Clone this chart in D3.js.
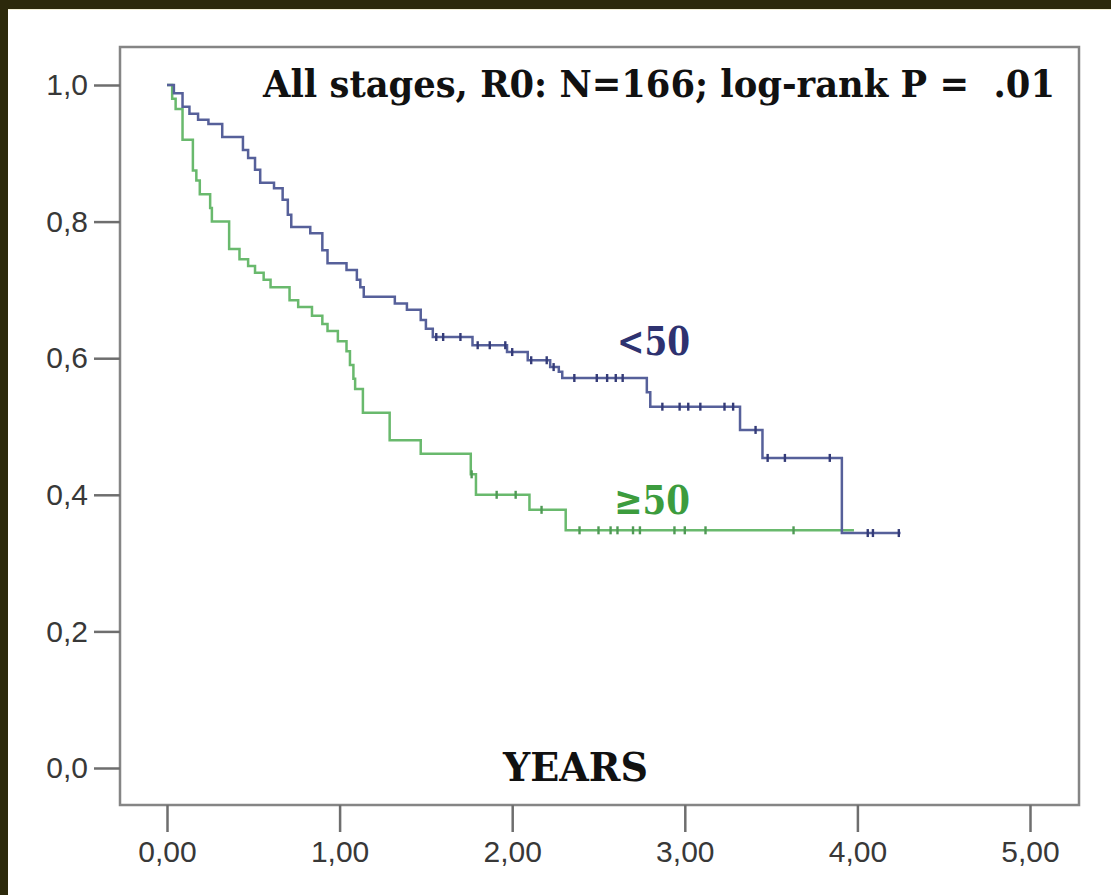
<!DOCTYPE html>
<html>
<head>
<meta charset="utf-8">
<script src="https://cdn.jsdelivr.net/npm/d3@7/dist/d3.min.js"></script>
<style>
  html, body { margin: 0; padding: 0; background: #ffffff; }
  svg { display: block; }
  .lbl { white-space: pre; }
</style>
</head>
<body>
<svg id="chart" width="1111" height="895"></svg>
<script>
// Kaplan–Meier survival, R0 resection, by age group
const title = "All stages, R0: N=166; log-rank P =  .01";
const xTitle = "YEARS";
const groupNames = ["<50", "\u226550"];

// age < 50: event times (years) and survival after each event
const youngTimes = [0.04, 0.09, 0.13, 0.18, 0.24, 0.32, 0.44, 0.47, 0.51, 0.54, 0.62, 0.67, 0.70, 0.72,
                    0.83, 0.90, 0.93, 1.04, 1.10, 1.12, 1.14, 1.32, 1.39, 1.47, 1.50, 1.54, 1.77, 1.97, 2.09,
                    2.22, 2.27, 2.29, 2.78, 2.80, 3.32, 3.45, 3.91];
const youngSurv  = [0.988, 0.968, 0.958, 0.949, 0.943, 0.924, 0.905, 0.893, 0.876, 0.857, 0.849, 0.832, 0.810, 0.792,
                    0.783, 0.758, 0.739, 0.729, 0.715, 0.704, 0.690, 0.680, 0.671, 0.656, 0.643, 0.631, 0.619, 0.609, 0.597,
                    0.587, 0.580, 0.571, 0.550, 0.529, 0.495, 0.454, 0.344];
const youngCensored = [1.56, 1.60, 1.70, 1.80, 1.87, 1.96, 2.00, 2.11, 2.20, 2.24, 2.36, 2.49, 2.55, 2.60, 2.64,
                       2.87, 2.97, 3.02, 3.09, 3.23, 3.28, 3.41, 3.48, 3.58, 3.84, 4.06, 4.09, 4.24];
const youngEnd = 4.25;

// age >= 50
const oldTimes = [0.03, 0.05, 0.09, 0.15, 0.17, 0.19, 0.25, 0.26, 0.36, 0.42, 0.47, 0.51, 0.56, 0.60,
                  0.71, 0.76, 0.84, 0.90, 0.93, 0.99, 1.04, 1.06, 1.08, 1.09, 1.135, 1.29, 1.47, 1.76,
                  1.79, 2.10, 2.31];
const oldSurv  = [0.980, 0.965, 0.920, 0.875, 0.860, 0.840, 0.820, 0.800, 0.760, 0.745, 0.735, 0.725, 0.715, 0.704,
                  0.685, 0.675, 0.662, 0.650, 0.640, 0.625, 0.610, 0.590, 0.570, 0.555, 0.520, 0.480, 0.460, 0.430,
                  0.400, 0.378, 0.348];
const oldCensored = [1.765, 1.91, 2.02, 2.17, 2.39, 2.50, 2.57, 2.61, 2.70, 2.74, 2.94, 3.00, 3.12, 3.63];
const oldEnd = 3.98;

const xTicks = [0, 1, 2, 3, 4, 5];
const yTicks = [0, 0.2, 0.4, 0.6, 0.8, 1.0];

const svg = d3.select("#chart");
const W = 1111, H = 895;

// page frame (dark band on the top and left)
svg.append("rect").attr("x", 0).attr("y", 0).attr("width", W).attr("height", H).attr("fill", "#ffffff");
svg.append("rect").attr("x", 0).attr("y", 0).attr("width", W).attr("height", 9).attr("fill", "#2c290b");
svg.append("rect").attr("x", 0).attr("y", 0).attr("width", 8).attr("height", H).attr("fill", "#2c290b");
svg.append("line").attr("x1", 8).attr("x2", W).attr("y1", 9.5).attr("y2", 9.5)
  .attr("stroke", "#f3f0d6").attr("stroke-width", 1);

const box = { left: 120, right: 1079, top: 47, bottom: 805 };

const x = d3.scaleLinear().domain([0, 5]).range([167, 1030]);
const y = d3.scaleLinear().domain([0, 1]).range([768, 85]);

// plot frame
svg.append("rect")
  .attr("x", box.left).attr("y", box.top)
  .attr("width", box.right - box.left).attr("height", box.bottom - box.top)
  .attr("fill", "none").attr("stroke", "#858585").attr("stroke-width", 2.5);

const comma = (fmt) => (d) => d3.format(fmt)(d).replace(".", ",");

const xAxis = svg.append("g")
  .attr("transform", `translate(0,${box.bottom})`)
  .call(d3.axisBottom(x).tickValues(xTicks).tickFormat(comma(".2f")).tickSize(27).tickPadding(9));
const yAxis = svg.append("g")
  .attr("transform", `translate(${box.left},0)`)
  .call(d3.axisLeft(y).tickValues(yTicks).tickFormat(comma(".1f")).tickSize(26).tickPadding(6));

[xAxis, yAxis].forEach(g => {
  g.select(".domain").remove();
  g.selectAll(".tick line").attr("stroke", "#6e6e6e").attr("stroke-width", 2.5);
  g.selectAll(".tick text")
    .attr("fill", "#383838")
    .attr("font-family", "'Liberation Sans', Arial, sans-serif")
    .attr("font-size", 30);
});

// survival curves
function curvePoints(times, surv, end) {
  const pts = [[0, 1]];
  times.forEach((t, i) => pts.push([t, surv[i]]));
  pts.push([end, surv[surv.length - 1]]);
  return pts;
}
function survAt(times, surv, t) {
  let s = 1;
  times.forEach((tt, i) => { if (tt <= t) s = surv[i]; });
  return s;
}
const line = d3.line().x(d => x(d[0])).y(d => y(d[1])).curve(d3.curveStepAfter);

const groups = [
  { times: oldTimes, surv: oldSurv, cens: oldCensored, end: oldEnd, color: "#69b96d", mark: "#4f9a55" },
  { times: youngTimes, surv: youngSurv, cens: youngCensored, end: youngEnd, color: "#56609a", mark: "#343b78" }
];

groups.forEach(g => {
  svg.append("path")
    .attr("d", line(curvePoints(g.times, g.surv, g.end)))
    .attr("fill", "none").attr("stroke", g.color).attr("stroke-width", 2.5);
  svg.append("g").selectAll("line")
    .data(g.cens)
    .join("line")
    .attr("x1", d => x(d)).attr("x2", d => x(d))
    .attr("y1", d => y(survAt(g.times, g.surv, d)) - 4)
    .attr("y2", d => y(survAt(g.times, g.surv, d)) + 4)
    .attr("stroke", g.mark).attr("stroke-width", 2.4);
});

// annotations
const serif = "'DejaVu Serif Condensed', 'DejaVu Serif', 'Liberation Serif', serif";
svg.append("text")
  .attr("class", "lbl")
  .attr("x", 263).attr("y", 97)
  .attr("font-family", serif).attr("font-weight", "bold").attr("font-size", 38)
  .attr("font-stretch", "condensed")
  .attr("textLength", 792).attr("lengthAdjust", "spacingAndGlyphs")
  .attr("fill", "#111111")
  .text(title);

svg.append("text")
  .attr("x", 503).attr("y", 781)
  .attr("font-family", serif).attr("font-weight", "bold").attr("font-size", 40)
  .attr("font-stretch", "condensed")
  .attr("textLength", 145).attr("lengthAdjust", "spacingAndGlyphs")
  .attr("fill", "#111111")
  .text(xTitle);

svg.append("text")
  .attr("x", 617).attr("y", 355)
  .attr("font-family", serif).attr("font-weight", "bold").attr("font-size", 40)
  .attr("textLength", 73).attr("lengthAdjust", "spacingAndGlyphs")
  .attr("fill", "#2e3270")
  .text(groupNames[0]);

svg.append("text")
  .attr("x", 614).attr("y", 514)
  .attr("font-family", serif).attr("font-weight", "bold").attr("font-size", 40)
  .attr("textLength", 76).attr("lengthAdjust", "spacingAndGlyphs")
  .attr("fill", "#3c9c3e")
  .text(groupNames[1]);
</script>
</body>
</html>
